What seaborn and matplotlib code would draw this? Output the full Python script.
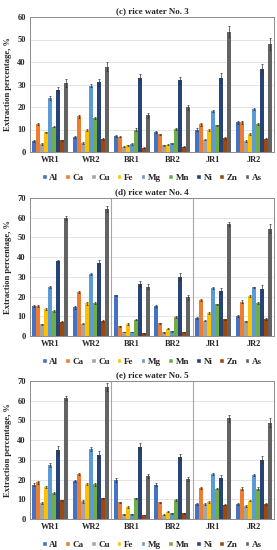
import matplotlib
matplotlib.use("Agg")
import matplotlib.pyplot as plt
import seaborn as sns
import pandas as pd
from matplotlib.patches import Patch

# sample groups and elements
samples = ['WR1', 'WR2', 'BR1', 'BR2', 'JR1', 'JR2']
elements = ['Al', 'Ca', 'Cu', 'Fe', 'Mg', 'Mn', 'Ni', 'Zn', 'As']
colors = ['#4472C4', '#ED7D31', '#A5A5A5', '#FFC000', '#5B9BD5',
          '#70AD47', '#264478', '#9E480E', '#636363']

# (c) rice water No. 3 -- one row per element, one column per sample
rw3_vals = [
    [4.9, 6.6, 7.1, 8.8, 10.0, 13.2],
    [12.3, 15.8, 6.8, 7.9, 12.3, 13.2],
    [3.5, 4.0, 2.3, 3.0, 5.5, 4.9],
    [8.7, 9.7, 2.9, 3.3, 9.9, 8.0],
    [24.0, 29.5, 3.6, 3.9, 18.3, 19.0],
    [11.3, 15.0, 10.0, 10.3, 11.8, 12.4],
    [27.7, 31.0, 33.0, 31.8, 32.7, 36.8],
    [5.2, 5.8, 2.0, 2.4, 6.3, 5.9],
    [30.5, 38.0, 16.3, 19.8, 53.5, 48.0],
]
rw3_err = [
    [0.3, 0.3, 0.3, 0.4, 0.8, 0.6],
    [0.5, 0.5, 0.3, 0.3, 0.6, 0.6],
    [0.3, 0.3, 0.2, 0.2, 0.3, 0.3],
    [0.4, 0.4, 0.2, 0.2, 0.5, 0.6],
    [0.8, 0.8, 0.3, 0.3, 0.5, 0.4],
    [0.4, 0.5, 0.5, 0.5, 0.4, 0.4],
    [1.0, 1.5, 1.8, 1.5, 2.2, 2.5],
    [0.3, 0.3, 0.2, 0.2, 0.3, 0.3],
    [1.8, 2.0, 1.2, 1.2, 2.5, 2.7],
]

# (d) rice water No. 4
rw4_vals = [
    [15.3, 14.5, 20.7, 15.2, 9.3, 10.3],
    [15.3, 22.4, 5.0, 6.5, 18.4, 17.4],
    [6.0, 6.2, 2.0, 1.8, 7.8, 7.4],
    [13.8, 16.6, 6.2, 3.8, 11.7, 20.3],
    [25.0, 31.3, 2.0, 2.3, 24.2, 24.7],
    [12.6, 16.8, 8.3, 9.6, 16.0, 16.8],
    [38.0, 37.0, 26.5, 30.0, 23.0, 24.0],
    [7.3, 7.6, 1.4, 2.0, 8.5, 8.6],
    [60.0, 64.3, 25.0, 19.7, 56.7, 54.5],
]
rw4_err = [
    [0.5, 0.6, 0.3, 0.4, 0.5, 0.5],
    [0.4, 0.6, 0.3, 0.3, 0.5, 0.7],
    [0.3, 0.3, 0.2, 0.2, 0.3, 0.3],
    [0.4, 0.8, 0.4, 0.3, 0.6, 0.4],
    [0.5, 0.6, 0.2, 0.2, 0.5, 0.4],
    [0.4, 0.4, 0.4, 0.4, 0.4, 0.4],
    [0.5, 1.5, 1.6, 1.8, 1.3, 1.8],
    [0.3, 0.3, 0.2, 0.2, 0.3, 0.3],
    [1.0, 1.6, 1.2, 1.2, 1.0, 2.5],
]

# (e) rice water No. 5
rw5_vals = [
    [17.3, 19.4, 19.6, 17.3, 7.8, 7.8],
    [18.7, 22.8, 8.4, 8.5, 15.6, 15.4],
    [8.0, 9.0, 2.3, 2.2, 7.6, 6.6],
    [16.0, 18.0, 6.2, 3.6, 8.7, 9.3],
    [27.2, 35.5, 2.4, 2.9, 23.0, 22.4],
    [13.4, 17.6, 10.4, 9.6, 15.4, 15.4],
    [35.0, 32.5, 36.5, 31.6, 21.0, 30.0],
    [9.5, 10.5, 2.0, 2.8, 7.2, 7.6],
    [61.5, 66.8, 22.0, 20.5, 51.0, 48.8],
]
rw5_err = [
    [0.8, 0.6, 1.0, 0.8, 0.5, 0.5],
    [0.8, 0.6, 0.4, 0.3, 0.4, 0.8],
    [0.4, 0.8, 0.3, 0.3, 0.3, 0.4],
    [0.5, 0.5, 0.5, 0.3, 0.5, 0.4],
    [1.0, 1.0, 0.3, 0.3, 0.5, 0.5],
    [0.5, 0.8, 0.5, 0.4, 0.4, 0.6],
    [2.0, 1.8, 2.0, 1.5, 1.2, 1.8],
    [0.3, 0.4, 0.2, 0.2, 0.3, 0.3],
    [1.0, 2.0, 1.0, 1.0, 2.0, 2.2],
]

sns.set_style("white")
plt.rcParams['font.family'] = ['Liberation Serif', 'DejaVu Serif']
plt.rcParams['font.weight'] = 'bold'

W, H = 277, 550
fig = plt.figure(figsize=(W / 100, H / 100), dpi=100)

panels = [
    ('(c) rice water No. 3', rw3_vals, rw3_err, 60, False, 17, 152),
    ('(d) rice water No. 4', rw4_vals, rw4_err, 70, True, 198, 336),
    ('(e) rice water No. 5', rw5_vals, rw5_err, 70, True, 381, 519),
]

for title, vals, errs, ymax, seps, top, bottom in panels:
    ax = fig.add_axes([30 / W, 1 - bottom / H, 244 / W, (bottom - top) / H])
    rows = []
    for el, row in zip(elements, vals):
        for s, v in zip(samples, row):
            rows.append({'sample': s, 'element': el, 'value': v})
    df = pd.DataFrame(rows)
    sns.barplot(data=df, x='sample', y='value', hue='element',
                hue_order=elements, order=samples, palette=colors,
                width=0.88, saturation=1, errorbar=None, legend=False,
                linewidth=0, ax=ax)
    for cont, err in zip(ax.containers, errs):
        xs = [b.get_x() + b.get_width() / 2 for b in cont]
        ys = [b.get_height() for b in cont]
        ax.errorbar(xs, ys, yerr=err, fmt='none', ecolor='#333333',
                    elinewidth=0.5, capsize=0.8, capthick=0.5)
    ax.set_ylim(0, ymax)
    ax.set_xlim(-0.5, 5.5)
    ax.set_yticks(range(0, ymax + 1, 10))
    ax.yaxis.grid(True, color='#d9d9d9', linewidth=0.5)
    ax.set_axisbelow(True)
    if seps:
        for xv in (1.5, 3.5):
            ax.axvline(xv, color='#a6a6a6', linewidth=0.8)
    for sp in ax.spines.values():
        sp.set_visible(True)
        sp.set_color('#8c8c8c')
        sp.set_linewidth(0.7)
    ax.tick_params(length=0, labelsize=6, pad=3)
    for lab in ax.get_xticklabels() + ax.get_yticklabels():
        lab.set_fontweight('bold')
    ax.set_xlabel('')
    ax.set_ylabel('Extraction percentage, %', fontsize=6.2,
                  fontweight='bold', labelpad=4)
    ax.set_title(title, fontsize=6.5, fontweight='bold', pad=3)
    handles = [Patch(facecolor=c, label=e) for c, e in zip(colors, elements)]
    leg = ax.legend(handles=handles, loc='upper center',
                    bbox_to_anchor=(0.5, -0.1), ncol=9, frameon=False,
                    fontsize=6.5, handlelength=0.5, handleheight=0.5,
                    handletextpad=0.3, columnspacing=0.8)
    for t in leg.get_texts():
        t.set_fontweight('bold')

fig.savefig('out.png', dpi=100)
